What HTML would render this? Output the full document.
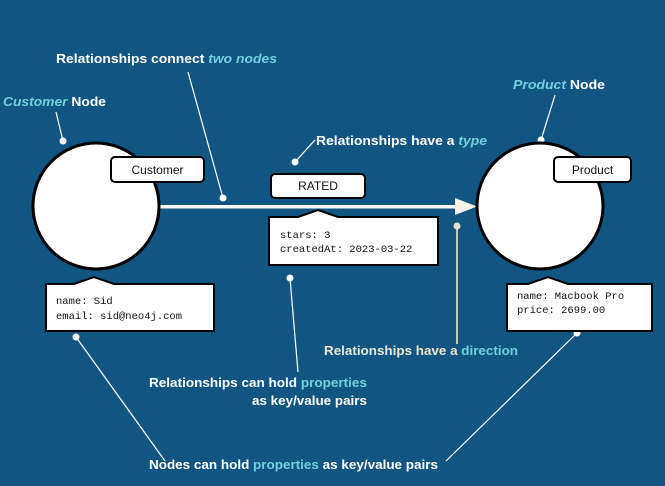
<!DOCTYPE html>
<html><head><meta charset="utf-8"><style>
html,body{margin:0;padding:0;background:#115683;}
svg{display:block}
.t{font-family:"Liberation Sans",sans-serif;font-weight:bold;font-size:13px;fill:#fff}
.c{fill:#72d0dc}
.m{font-family:"Liberation Mono",monospace;font-size:10.5px;fill:#111}
.l{font-family:"Liberation Sans",sans-serif;font-size:12px;fill:#111}
</style></head><body>
<svg width="665" height="486" viewBox="0 0 665 486" xmlns="http://www.w3.org/2000/svg">
<rect width="665" height="486" fill="#115683"/>
<g stroke="#fff" stroke-width="1.2" fill="none">
<line x1="188" y1="72" x2="223" y2="198"/>
<line x1="56" y1="112" x2="63" y2="141"/>
<line x1="315" y1="140" x2="295" y2="162"/>
<line x1="555" y1="95" x2="541" y2="140"/>
<line x1="290" y1="278" x2="298" y2="372"/>
<line x1="76" y1="337" x2="165" y2="461"/>
<line x1="577" y1="333" x2="446" y2="461"/>
</g>
<line x1="457" y1="226" x2="457" y2="344" stroke="#c9c3b0" stroke-width="2"/>
<g fill="#fff">
<circle cx="223" cy="198" r="3.5"/><circle cx="63" cy="141" r="3.5"/>
<circle cx="295" cy="162" r="3.5"/><circle cx="541" cy="140" r="3.5"/>
<circle cx="290" cy="278" r="3.5"/><circle cx="76" cy="337" r="3.5"/>
<circle cx="577" cy="333" r="3.5"/>
</g>
<circle cx="457" cy="226" r="3.5" fill="#e8e0c8"/>
<rect x="158" y="205" width="298" height="3.5" fill="#fff"/>
<polygon points="455,198 477,206.5 455,215" fill="#f6f2ea"/>
<circle cx="96" cy="206" r="63" fill="#fff" stroke="#000" stroke-width="3"/>
<circle cx="540" cy="206" r="63" fill="#fff" stroke="#000" stroke-width="3"/>
<rect x="111" y="157" width="93" height="25" rx="4" fill="#fff" stroke="#000" stroke-width="2"/>
<text class="l" x="157.5" y="174" text-anchor="middle">Customer</text>
<rect x="554" y="157" width="77" height="25" rx="4" fill="#fff" stroke="#000" stroke-width="2"/>
<text class="l" x="592.5" y="174" text-anchor="middle">Product</text>
<rect x="271" y="174" width="94" height="24" rx="4" fill="#fff" stroke="#000" stroke-width="2"/>
<text class="l" x="318" y="190" text-anchor="middle">RATED</text>
<path d="M46,284 H74 L94,277 L114,284 H214 V331 H46 Z" fill="#fff" stroke="#000" stroke-width="2"/>
<text class="m" x="56" y="304">name: Sid</text>
<text class="m" x="56" y="319">email: sid@neo4j.com</text>
<path d="M269,217 H298 L318,210 L338,217 H438 V265 H269 Z" fill="#fff" stroke="#000" stroke-width="2"/>
<text class="m" x="280" y="238">stars: 3</text>
<text class="m" x="280" y="252">createdAt: 2023-03-22</text>
<path d="M507,284 H528 L548,277 L568,284 H652 V331 H507 Z" fill="#fff" stroke="#000" stroke-width="2"/>
<text class="m" x="517" y="299">name: Macbook Pro</text>
<text class="m" x="517" y="313">price: 2699.00</text>
<text class="t" x="56" y="63" textLength="221" lengthAdjust="spacingAndGlyphs">Relationships connect <tspan class="c" font-style="italic">two nodes</tspan></text>
<text class="t" x="3" y="106" textLength="103" lengthAdjust="spacingAndGlyphs"><tspan class="c" font-style="italic">Customer</tspan> Node</text>
<text class="t" x="513" y="89" textLength="92" lengthAdjust="spacingAndGlyphs"><tspan class="c" font-style="italic">Product</tspan> Node</text>
<text class="t" x="316" y="145" textLength="171" lengthAdjust="spacingAndGlyphs">Relationships have a <tspan class="c" font-style="italic">type</tspan></text>
<text class="t" x="324" y="355" textLength="194" lengthAdjust="spacingAndGlyphs" style="fill:#f0e6c8">Relationships have a <tspan class="c">direction</tspan></text>
<text class="t" x="149" y="387" textLength="218" lengthAdjust="spacingAndGlyphs">Relationships can hold <tspan class="c">properties</tspan></text>
<text class="t" x="252" y="405" textLength="115" lengthAdjust="spacingAndGlyphs">as key/value pairs</text>
<text class="t" x="149" y="469" textLength="289" lengthAdjust="spacingAndGlyphs">Nodes can hold <tspan class="c">properties</tspan> as key/value pairs</text>
</svg>
</body></html>
